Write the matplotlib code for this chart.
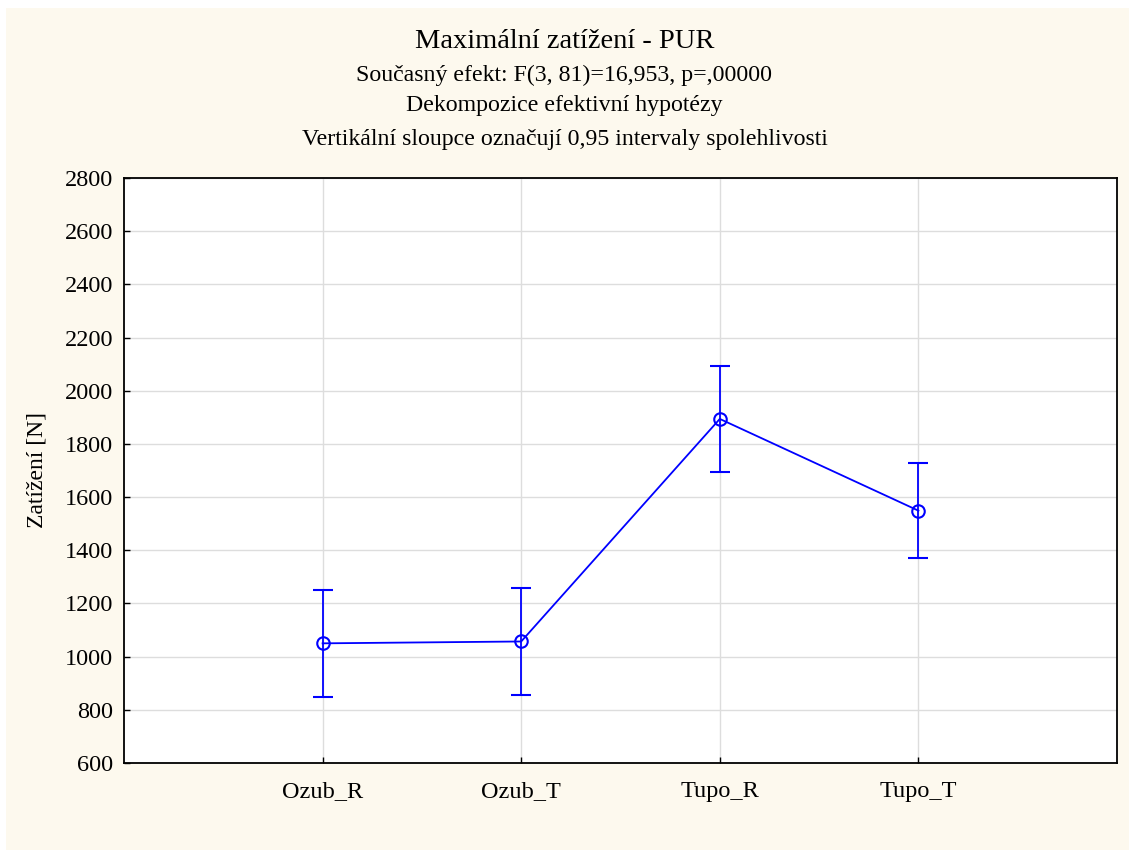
import matplotlib
matplotlib.use("Agg")
import matplotlib.pyplot as plt
from matplotlib.patches import Rectangle

# Group means and 95% confidence half-widths
groups = ["Ozub_R", "Ozub_T", "Tupo_R", "Tupo_T"]
means = [1050, 1057, 1894, 1549]
ci95 = [200, 200, 199, 178]
y_ticks = [600, 800, 1000, 1200, 1400, 1600, 1800, 2000, 2200, 2400, 2600, 2800]

title = "Maximální zatížení - PUR"
subtitles = [
    "Současný efekt: F(3, 81)=16,953, p=,00000",
    "Dekompozice efektivní hypotézy",
    "Vertikální sloupce označují 0,95 intervaly spolehlivosti",
]
ylabel = "Zatížení [N]"

W, H = 1129, 850
plt.rcParams["font.family"] = ["Liberation Serif", "DejaVu Serif"]

fig = plt.figure(figsize=(W / 100, H / 100), dpi=100, facecolor="white")
# cream panel behind everything
fig.patches.append(Rectangle((6 / W, 0), 1 - 6 / W, 1 - 8 / H, transform=fig.transFigure,
                             facecolor="#FDF9EE", edgecolor="none", zorder=-10))

ax = fig.add_axes([124 / W, 1 - 763 / H, (1117 - 124) / W, (763 - 178) / H])
ax.set_facecolor("white")
ax.set_zorder(1)

x = list(range(1, len(groups) + 1))
ax.errorbar(x, means, yerr=ci95, color="#0000FF", lw=1.3, marker="o", ms=9,
            mfc="none", mec="#0000FF", mew=1.5, capsize=7, capthick=1.3,
            elinewidth=1.3, zorder=3)

ax.set_xlim(0, len(groups) + 1)
ax.set_ylim(600, 2800)
ax.set_xticks(x)
ax.set_xticklabels(groups)
ax.set_yticks(y_ticks)
ax.grid(True, color="#DDDDDD", lw=1.0)
ax.set_axisbelow(True)
ax.tick_params(direction="in", length=4, width=1, labelsize=17.5, pad=8)
ax.tick_params(axis="x", pad=13)
for s in ax.spines.values():
    s.set_linewidth(1.3)
ax.set_ylabel(ylabel, fontsize=17, labelpad=12)

fig.text(0.5, 1 - 42 / H, title, ha="center", va="center", fontsize=20.5)
for yy, t in zip([75, 106, 140], subtitles):
    fig.text(0.5, 1 - yy / H, t, ha="center", va="center", fontsize=17.2)

fig.savefig("out.png", dpi=100, facecolor=fig.get_facecolor())
